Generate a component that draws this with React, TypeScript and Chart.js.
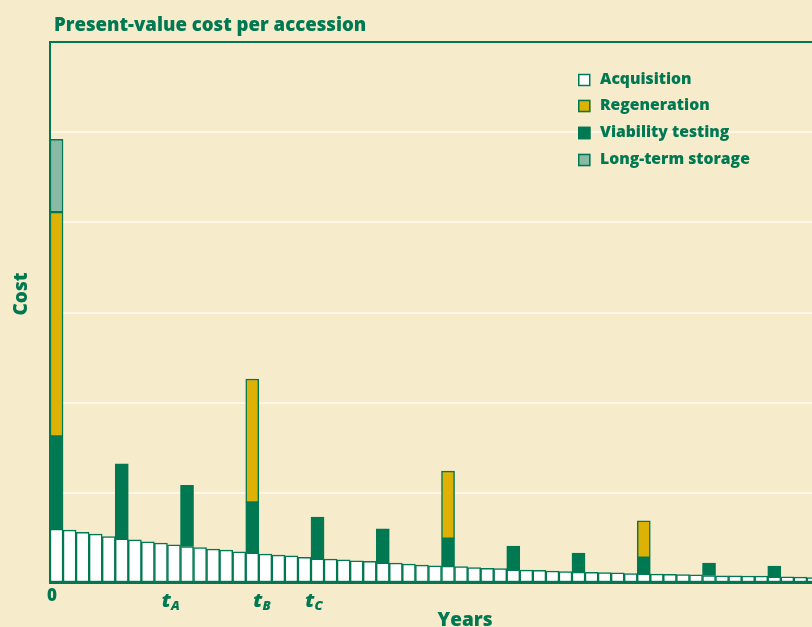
import React, { useEffect, useRef } from 'react';
import { Chart, registerables } from 'chart.js';

Chart.register(...registerables);

const GREEN = '#007852';
const YELLOW = '#ddb204';
const PALE = '#88baa6';
const BG = '#f6ebcb';
const FONT = '"Open Sans", Lato, sans-serif';
const W = 800;

const years = Array.from({ length: 60 }, (_, i) => String(i));

const acquisition = [
  0.597, 0.586, 0.561, 0.542, 0.516, 0.491, 0.48, 0.457, 0.442, 0.424,
  0.405, 0.394, 0.375, 0.364, 0.346, 0.335, 0.32, 0.309, 0.302, 0.286,
  0.269, 0.265, 0.258, 0.246, 0.239, 0.224, 0.22, 0.209, 0.198, 0.191,
  0.187, 0.183, 0.172, 0.164, 0.16, 0.147, 0.142, 0.14, 0.131, 0.128,
  0.12, 0.118, 0.115, 0.113, 0.105, 0.102, 0.098, 0.096, 0.094, 0.091,
  0.083, 0.08, 0.079, 0.078, 0.077, 0.069, 0.068, 0.066, 0.061, 0.06,
];

const viabilityYears = [0, 5, 10, 15, 20, 25, 30, 35, 40, 45, 50, 55];
const viabilityCost = [1.03, 0.832, 0.677, 0.559, 0.462, 0.378, 0.304, 0.262, 0.211, 0.178, 0.137, 0.118];

const regenerationYears = [0, 15, 30, 45];
const regenerationCost = [2.487, 1.368, 0.75, 0.41];

const storageYears = [0];
const storageCost = [0.807];

// x tick labels: main text, subscript, category position
const tickText = ['0', 't', 't', 't'];
const tickSub = ['', 'A', 'B', 'C'];
const tickAt = [-0.35, 8.75, 15.74, 19.73];

const legendOrder = ['Acquisition', 'Regeneration', 'Viability testing', 'Long-term storage'];

function sparse(idx: number[], vals: number[]) {
  const out: (number | null)[] = years.map(() => null);
  idx.forEach((y, i) => {
    out[y] = vals[i];
  });
  return out;
}

const textPlugin = {
  id: 'texts',
  afterDraw(chart: any) {
    const ctx = chart.ctx as CanvasRenderingContext2D;
    const { left, right, top } = chart.chartArea;
    ctx.save();
    // top frame line
    ctx.strokeStyle = GREEN;
    ctx.lineWidth = 2;
    ctx.beginPath();
    ctx.moveTo(left - 1, top);
    ctx.lineTo(right, top);
    ctx.stroke();

    ctx.fillStyle = GREEN;
    // title
    ctx.font = `${W} 18.6px ${FONT}`;
    ctx.textAlign = 'left';
    ctx.textBaseline = 'alphabetic';
    ctx.fillText('Present-value cost per accession', 54, 31);

    // y title
    ctx.save();
    ctx.translate(27, 294);
    ctx.rotate(-Math.PI / 2);
    ctx.textAlign = 'center';
    ctx.font = `${W} 19px ${FONT}`;
    ctx.fillText('Cost', 0, 0);
    ctx.restore();

    // x title
    ctx.textAlign = 'center';
    ctx.font = `${W} 19px ${FONT}`;
    ctx.fillText('Years', 465, 626);

    // x tick labels
    const xs = chart.scales.x;
    tickText.forEach((t, i) => {
      const cx = xs.getPixelForValue(tickAt[i]);
      if (!tickSub[i]) {
        ctx.font = `${W} 17px ${FONT}`;
        ctx.textAlign = 'center';
        ctx.fillText(t, cx, 601);
        return;
      }
      ctx.font = `italic ${W} 20px ${FONT}`;
      const w1 = ctx.measureText(t).width;
      ctx.font = `italic ${W} 13px ${FONT}`;
      const w2 = ctx.measureText(tickSub[i]).width;
      const x0 = cx - (w1 + w2) / 2;
      ctx.textAlign = 'left';
      ctx.font = `italic ${W} 20px ${FONT}`;
      ctx.fillText(t, x0, 607);
      ctx.font = `italic ${W} 13px ${FONT}`;
      ctx.fillText(tickSub[i], x0 + w1, 610);
    });

    // legend
    const rowsY = [80, 106, 133, 160];
    legendOrder.forEach((label, i) => {
      const ds = chart.data.datasets.find((d: any) => d.label === label);
      if (!ds) return;
      const cy = rowsY[i];
      const s = 12.5;
      ctx.fillStyle = ds.backgroundColor;
      ctx.fillRect(578, cy - s / 2, s, s);
      ctx.strokeStyle = GREEN;
      ctx.lineWidth = 1.5;
      ctx.strokeRect(578.75, cy - s / 2 + 0.75, s - 1.5, s - 1.5);
      ctx.fillStyle = GREEN;
      ctx.font = `${W} 15.7px ${FONT}`;
      ctx.textAlign = 'left';
      ctx.textBaseline = 'middle';
      ctx.fillText(label, 600, cy);
    });
    ctx.restore();
  },
};

export default function App() {
  const ref = useRef<HTMLCanvasElement | null>(null);

  useEffect(() => {
    if (!ref.current) return;
    const common = {
      borderColor: GREEN,
      borderWidth: 1.5,
      borderSkipped: false,
      barPercentage: 1,
      categoryPercentage: 1,
      stack: 'cost',
    };
    const chart = new Chart(ref.current, {
      type: 'bar',
      data: {
        labels: years,
        datasets: [
          { ...common, label: 'Acquisition', data: acquisition, backgroundColor: '#ffffff' },
          { ...common, label: 'Viability testing', data: sparse(viabilityYears, viabilityCost), backgroundColor: GREEN },
          { ...common, label: 'Regeneration', data: sparse(regenerationYears, regenerationCost), backgroundColor: YELLOW },
          { ...common, label: 'Long-term storage', data: sparse(storageYears, storageCost), backgroundColor: PALE },
        ] as any,
      },
      options: {
        responsive: false,
        animation: false,
        layout: { padding: { left: 50, top: 42, right: 17, bottom: 44 } },
        plugins: { legend: { display: false }, tooltip: { enabled: false }, title: { display: false } },
        scales: {
          x: {
            stacked: true,
            grid: { display: false, drawTicks: false },
            ticks: { display: false },
            border: { display: true, color: GREEN, width: 2 },
          },
          y: {
            stacked: true,
            min: 0,
            max: 6,
            ticks: { display: false, stepSize: 1 },
            grid: { color: '#fff8ea', lineWidth: 2, drawTicks: false },
            border: { display: true, color: GREEN, width: 2 },
          },
        },
      },
      plugins: [textPlugin],
    });
    return () => chart.destroy();
  }, []);

  return (
    <div
      style={{
        position: 'absolute',
        left: 0,
        top: 0,
        width: 812,
        height: 627,
        overflow: 'hidden',
        background: BG,
      }}
    >
      <canvas ref={ref} width={850} height={627} style={{ display: 'block' }} />
    </div>
  );
}
